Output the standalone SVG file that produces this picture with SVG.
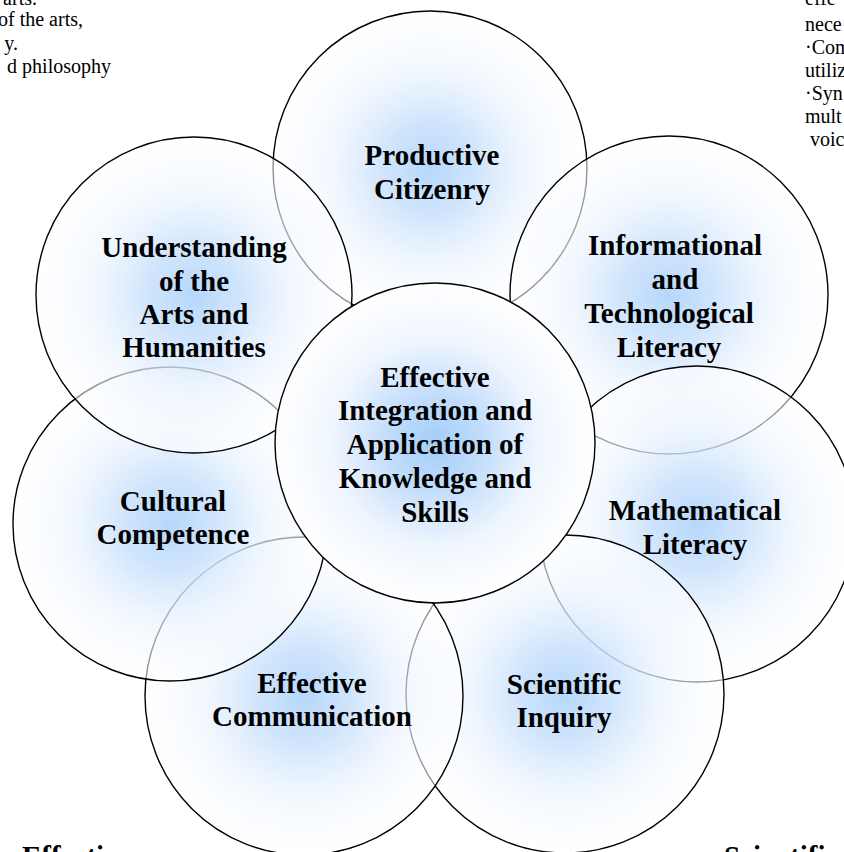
<svg xmlns="http://www.w3.org/2000/svg" width="844" height="852" viewBox="0 0 844 852">
<defs>
<radialGradient id="g" cx="0.5" cy="0.5" r="0.5">
<stop offset="0" stop-color="#b6d7fb" stop-opacity="1"/>
<stop offset="0.3" stop-color="#cbe2fc" stop-opacity="0.9"/>
<stop offset="0.65" stop-color="#eef5fe" stop-opacity="0.68"/>
<stop offset="1" stop-color="#ffffff" stop-opacity="0.55"/>
</radialGradient>
<radialGradient id="gc" cx="0.5" cy="0.5" r="0.5">
<stop offset="0" stop-color="#a3cdf8"/>
<stop offset="0.3" stop-color="#c2ddfb"/>
<stop offset="0.65" stop-color="#f0f6fe"/>
<stop offset="1" stop-color="#ffffff"/>
</radialGradient>
</defs>
<style>
.c{fill:url(#g);stroke:#000;stroke-width:1.4}
.cc{fill:url(#gc);stroke:#000;stroke-width:1.4}
.t{font-family:"Liberation Serif","Times New Roman",serif;font-weight:bold;font-size:29px;fill:#000;text-anchor:middle}
.s{font-family:"Liberation Serif","Times New Roman",serif;font-size:20px;fill:#000}
.b{font-family:"Liberation Serif","Times New Roman",serif;font-weight:bold;font-size:29px;fill:#000}
</style>
<rect width="844" height="852" fill="#fff"/>
<g id="side-text">
<text class="s" x="37" y="5" text-anchor="end">g arts.</text>
<text class="s" x="83" y="26" text-anchor="end">of the arts,</text>
<text class="s" x="18" y="49.5" text-anchor="end">y.</text>
<text class="s" x="111" y="73" text-anchor="end">d philosophy</text>
<text class="s" x="805" y="5">effe</text>
<text class="s" x="805" y="31">nece</text>
<text class="s" x="805" y="54">·Com</text>
<text class="s" x="805" y="77">utiliz</text>
<text class="s" x="805" y="100">·Syn</text>
<text class="s" x="805" y="123">mult</text>
<text class="s" x="810" y="146">voic</text>
<text class="b" x="22" y="866">Effective</text>
<text class="b" x="724" y="866">Scientific</text>
</g>
<g id="productive-citizenry">
<circle class="c" cx="430" cy="168" r="157"/>
<text class="t" x="432" y="165">Productive</text>
<text class="t" x="432" y="199">Citizenry</text>
</g>
<g id="informational-literacy">
<circle class="c" cx="669" cy="295" r="159"/>
<text class="t" x="675" y="255">Informational</text>
<text class="t" x="675" y="289">and</text>
<text class="t" x="669" y="323">Technological</text>
<text class="t" x="669" y="357">Literacy</text>
</g>
<g id="mathematical-literacy">
<circle class="c" cx="697" cy="524" r="158"/>
<text class="t" x="695" y="520">Mathematical</text>
<text class="t" x="695" y="554">Literacy</text>
</g>
<g id="scientific-inquiry">
<circle class="c" cx="565" cy="694" r="159"/>
<text class="t" x="564" y="694">Scientific</text>
<text class="t" x="564" y="727">Inquiry</text>
</g>
<g id="effective-communication">
<circle class="c" cx="304" cy="696" r="159"/>
<text class="t" x="312" y="693">Effective</text>
<text class="t" x="312" y="726">Communication</text>
</g>
<g id="cultural-competence">
<circle class="c" cx="170" cy="524" r="157"/>
<text class="t" x="173" y="511">Cultural</text>
<text class="t" x="173" y="544">Competence</text>
</g>
<g id="arts-humanities">
<circle class="c" cx="194" cy="295" r="158"/>
<text class="t" x="194" y="257">Understanding</text>
<text class="t" x="194" y="291">of the</text>
<text class="t" x="194" y="324">Arts and</text>
<text class="t" x="194" y="357">Humanities</text>
</g>
<g id="effective-integration">
<circle class="cc" cx="435" cy="443" r="160"/>
<text class="t" x="435" y="387">Effective</text>
<text class="t" x="435" y="420">Integration and</text>
<text class="t" x="435" y="454">Application of</text>
<text class="t" x="435" y="488">Knowledge and</text>
<text class="t" x="435" y="522">Skills</text>
</g>
</svg>
